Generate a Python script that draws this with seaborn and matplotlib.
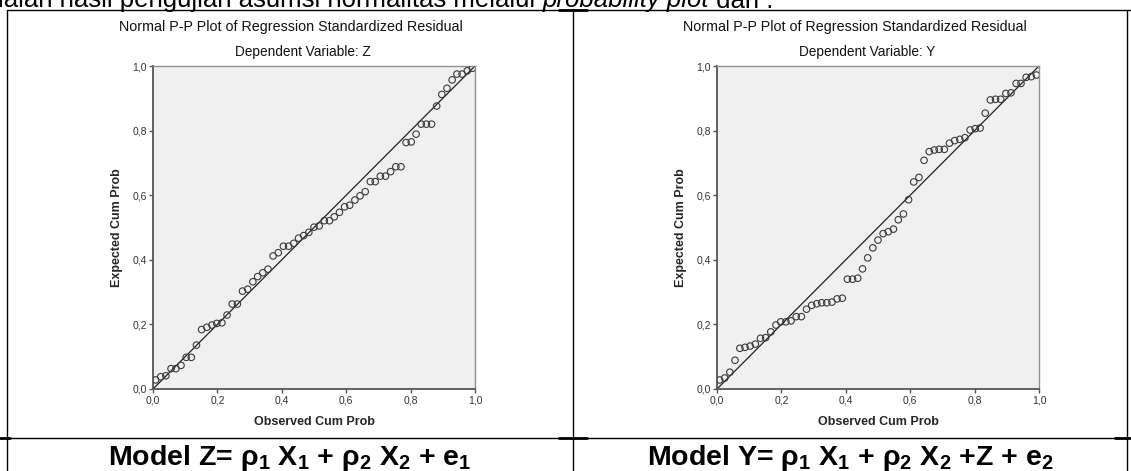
import matplotlib
matplotlib.use("Agg")
import pandas as pd
import matplotlib.pyplot as plt
import seaborn as sns
from matplotlib.lines import Line2D
from matplotlib import font_manager

# Observed cum prob (same 63 cases in both models)
observed = [0.008, 0.024, 0.040, 0.056, 0.071, 0.087, 0.103, 0.119, 0.135, 0.151,
            0.167, 0.183, 0.198, 0.214, 0.230, 0.246, 0.262, 0.278, 0.294, 0.310,
            0.325, 0.341, 0.357, 0.373, 0.389, 0.405, 0.421, 0.437, 0.452, 0.468,
            0.484, 0.500, 0.516, 0.532, 0.548, 0.563, 0.579, 0.595, 0.611, 0.627,
            0.643, 0.659, 0.675, 0.690, 0.706, 0.722, 0.738, 0.754, 0.770, 0.786,
            0.802, 0.817, 0.833, 0.849, 0.865, 0.881, 0.897, 0.913, 0.929, 0.944,
            0.960, 0.976, 0.992]

# Expected cum prob, model Z
expected_z = [0.028, 0.038, 0.041, 0.063, 0.063, 0.073, 0.098, 0.098, 0.136, 0.184,
              0.191, 0.198, 0.203, 0.205, 0.229, 0.263, 0.263, 0.303, 0.309, 0.332,
              0.348, 0.360, 0.371, 0.412, 0.422, 0.442, 0.442, 0.451, 0.467, 0.475,
              0.485, 0.501, 0.505, 0.521, 0.521, 0.533, 0.547, 0.564, 0.569, 0.585,
              0.598, 0.611, 0.642, 0.642, 0.659, 0.659, 0.673, 0.688, 0.688, 0.763,
              0.765, 0.789, 0.820, 0.820, 0.820, 0.876, 0.912, 0.931, 0.957, 0.975,
              0.975, 0.985, 0.993]

# Expected cum prob, model Y
expected_y = [0.028, 0.034, 0.052, 0.089, 0.126, 0.129, 0.133, 0.139, 0.157, 0.159,
              0.177, 0.198, 0.208, 0.208, 0.211, 0.224, 0.224, 0.247, 0.259, 0.264,
              0.267, 0.267, 0.269, 0.279, 0.281, 0.340, 0.340, 0.343, 0.372, 0.406,
              0.437, 0.461, 0.481, 0.487, 0.495, 0.524, 0.542, 0.586, 0.641, 0.655,
              0.708, 0.735, 0.740, 0.742, 0.742, 0.761, 0.769, 0.773, 0.778, 0.802,
              0.806, 0.808, 0.854, 0.895, 0.897, 0.897, 0.915, 0.917, 0.946, 0.946,
              0.965, 0.967, 0.972]

tick_vals = [0.0, 0.2, 0.4, 0.6, 0.8, 1.0]
tick_labels = ['0,0', '0,2', '0,4', '0,6', '0,8', '1,0']
dep_vars = ['Z', 'Y']
captions = [r'Model Z= ρ$_1$ X$_1$ + ρ$_2$ X$_2$ + e$_1$',
            r'Model Y= ρ$_1$ X$_1$ + ρ$_2$ X$_2$ +Z + e$_2$']

sns.set_theme(style="white")
plt.rcParams['font.family'] = ['Liberation Sans', 'DejaVu Sans']
plt.rcParams['mathtext.fontset'] = 'custom'
plt.rcParams['mathtext.rm'] = 'Liberation Sans:bold'
plt.rcParams['mathtext.it'] = 'Liberation Sans:bold'
plt.rcParams['mathtext.bf'] = 'Liberation Sans:bold'

installed = {f.name for f in font_manager.fontManager.ttflist}
cap_family = 'Liberation Sans Narrow' if 'Liberation Sans Narrow' in installed else 'Liberation Sans'

W, H = 1131, 471
fig = plt.figure(figsize=(W / 100, H / 100), dpi=100)


def fx(px):
    return px / W


def fy(py):
    return 1 - py / H


# table lines of the document
line_kw = dict(color='black', lw=1.0, transform=fig.transFigure)
for x0, x1, y in [(7, 1131, 10), (0, 1131, 438)]:
    fig.add_artist(Line2D([fx(x0), fx(x1)], [fy(y), fy(y)], **line_kw))
for x in [7, 573, 1127]:
    fig.add_artist(Line2D([fx(x), fx(x)], [fy(10), fy(471)], **line_kw))
for x0, x1 in [(0, 10), (559, 587), (1115, 1131)]:
    fig.add_artist(Line2D([fx(x0), fx(x1)], [fy(438), fy(438)], color='black', lw=2.0,
                          transform=fig.transFigure))
fig.add_artist(Line2D([fx(559), fx(587)], [fy(10), fy(10)], color='black', lw=2.0,
                      transform=fig.transFigure))

# partial sentence cut at the top
renderer = fig.canvas.get_renderer()
x_pos = -25
for part, style in [('adalah hasil pengujian asumsi normalitas melalui ', 'normal'),
                    ('probability plot', 'italic'),
                    (' dari :', 'normal')]:
    t = fig.text(fx(x_pos), fy(7.5), part, fontsize=18.5, fontstyle=style,
                 va='baseline', ha='left', color='black')
    x_pos += t.get_window_extent(renderer).width

panels = [(153, expected_z), (717, expected_y)]
for i, (left, expected) in enumerate(panels):
    df = pd.DataFrame({'observed': observed, 'expected': expected})
    ax = fig.add_axes([fx(left), fy(389), fx(322), 323 / H])
    ax.set_facecolor('#f0f0f0')
    ax.plot([0, 1], [0, 1], color='#222222', lw=0.9, zorder=2)
    sns.scatterplot(data=df, x='observed', y='expected', ax=ax, marker='o', s=22,
                    legend=False, zorder=3)
    pts = ax.collections[-1]
    pts.set_facecolor('none')
    pts.set_edgecolor('#3a3a3a')
    pts.set_linewidth(0.8)

    ax.set_xlim(0, 1)
    ax.set_ylim(0, 1)
    ax.set_xticks(tick_vals)
    ax.set_yticks(tick_vals)
    ax.set_xticklabels(tick_labels)
    ax.set_yticklabels(tick_labels)
    ax.tick_params(axis='both', direction='out', length=3, width=1, color='#555555',
                   labelsize=7.5, labelcolor='#333333', pad=1.5, left=True, bottom=True)
    for side in ['left', 'bottom']:
        ax.spines[side].set_color('#555555')
        ax.spines[side].set_linewidth(1.3)
    for side in ['top', 'right']:
        ax.spines[side].set_color('#909090')
        ax.spines[side].set_linewidth(1.0)

    ax.set_xlabel('Observed Cum Prob', fontsize=9, fontweight='bold', labelpad=8)
    ax.set_ylabel('Expected Cum Prob', fontsize=9, fontweight='bold', labelpad=7)

    cx = left + 138
    fig.text(fx(cx), fy(31), 'Normal P-P Plot of Regression Standardized Residual',
             fontsize=10.3, ha='center', va='baseline', color='#111111')
    fig.text(fx(cx + 12), fy(56), f'Dependent Variable: {dep_vars[i]}',
             fontsize=9.8, ha='center', va='baseline', color='#111111')

for i, cap in enumerate(captions):
    cx = [290, 850][i]
    fig.text(fx(cx), fy(465), cap, fontsize=20.5, fontweight='bold', family=cap_family,
             ha='center', va='baseline', color='black')

fig.savefig('out.png', dpi=100)
